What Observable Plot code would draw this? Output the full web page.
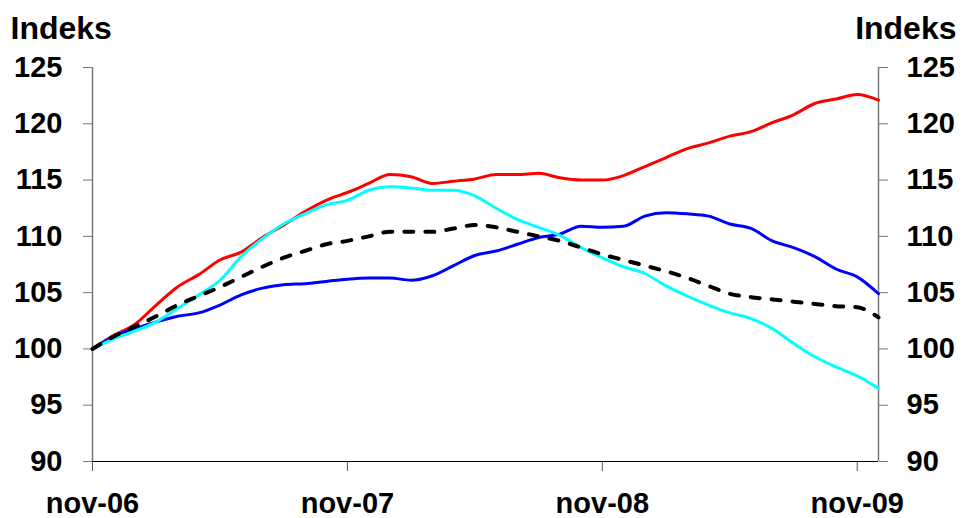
<!DOCTYPE html>
<html>
<head>
<meta charset="utf-8">
<script src="https://cdn.jsdelivr.net/npm/d3@7"></script>
<script src="https://cdn.jsdelivr.net/npm/@observablehq/plot@0.6"></script>
<style>
  html, body { margin: 0; padding: 0; background: #fff; overflow: hidden; }
  #chart { width: 963px; height: 518px; }
  #chart svg { display: block; }
</style>
</head>
<body>
<div id="chart"></div>
<script>
// Monthly observations, nov-06 (index 0) to dec-09 (index 37)
const xTickPositions = [0, 12, 24, 36];
const xTickLabels = ["nov-06", "nov-07", "nov-08", "nov-09"];
const yTicks = [90, 95, 100, 105, 110, 115, 120, 125];

const redSeries = [100, 101.2, 102.2, 103.9, 105.5, 106.6, 107.9, 108.6, 109.9, 111.0, 112.2, 113.2, 113.9, 114.7, 115.5, 115.3, 114.7, 114.9, 115.1, 115.5, 115.5, 115.6, 115.2, 115.0, 115.0, 115.4, 116.2, 117.0, 117.8, 118.3, 118.9, 119.3, 120.1, 120.8, 121.8, 122.2, 122.6, 122.1];
const blueSeries = [100, 101.1, 101.8, 102.4, 102.9, 103.2, 103.9, 104.8, 105.4, 105.7, 105.8, 106.0, 106.2, 106.3, 106.3, 106.1, 106.5, 107.4, 108.3, 108.7, 109.3, 109.9, 110.2, 110.9, 110.8, 110.9, 111.8, 112.1, 112.0, 111.8, 111.1, 110.7, 109.6, 109.0, 108.2, 107.1, 106.4, 104.9];
const cyanSeries = [100, 100.9, 101.6, 102.4, 103.6, 104.8, 106.1, 108.2, 109.8, 111.1, 112.0, 112.8, 113.2, 114.1, 114.4, 114.3, 114.1, 114.1, 113.6, 112.5, 111.5, 110.8, 110.1, 109.0, 108.1, 107.3, 106.7, 105.6, 104.7, 103.9, 103.2, 102.7, 101.8, 100.5, 99.3, 98.4, 97.6, 96.5];
const dashSeries = [100, 101.1, 102.0, 102.9, 103.9, 104.7, 105.5, 106.4, 107.3, 108.1, 108.7, 109.3, 109.6, 110.0, 110.4, 110.4, 110.4, 110.7, 111.0, 110.8, 110.4, 110.0, 109.6, 109.0, 108.4, 107.9, 107.4, 106.9, 106.3, 105.6, 104.9, 104.6, 104.4, 104.2, 104.0, 103.8, 103.7, 102.8];

const toRows = (arr) => arr.map((v, i) => ({i, v}));
const lastIndex = redSeries.length - 1;

const chart = Plot.plot({
  width: 963,
  height: 518,
  marginLeft: 92,
  marginRight: 85,
  marginTop: 67,
  marginBottom: 57,
  style: {
    fontFamily: "'Liberation Sans', Arial, sans-serif",
    fontWeight: "bold",
    fontSize: "29px",
    color: "black",
    background: "white",
    overflow: "visible"
  },
  x: {domain: [0, lastIndex]},
  y: {domain: [90, 125]},
  marks: [
    Plot.axisY({anchor: "left", ticks: yTicks, tickSize: 9, tickPadding: 21, label: null, stroke: "#777", fill: "black"}),
    Plot.axisY({anchor: "right", ticks: yTicks, tickSize: 9, tickPadding: 19, label: null, stroke: "#777", fill: "black"}),
    Plot.axisX({anchor: "bottom", ticks: xTickPositions, tickFormat: (d) => xTickLabels[xTickPositions.indexOf(d)], tickSize: 10, tickPadding: 21, label: null, stroke: "#555", fill: "black"}),
    Plot.ruleX([0], {stroke: "#777", strokeWidth: 1.5}),
    Plot.ruleX([lastIndex], {stroke: "#777", strokeWidth: 1.5}),
    Plot.ruleY([90], {stroke: "black", strokeWidth: 1.2}),
    Plot.lineY(toRows(redSeries), {x: "i", y: "v", stroke: "#ff0000", strokeWidth: 3, curve: "monotone-x"}),
    Plot.lineY(toRows(blueSeries), {x: "i", y: "v", stroke: "#0000ff", strokeWidth: 3, curve: "monotone-x"}),
    Plot.lineY(toRows(cyanSeries), {x: "i", y: "v", stroke: "#00ffff", strokeWidth: 3, curve: "monotone-x"}),
    Plot.lineY(toRows(dashSeries), {x: "i", y: "v", stroke: "black", strokeWidth: 4, strokeDasharray: "9,12", curve: "monotone-x"}),
    Plot.text(["Indeks"], {frameAnchor: "top-left", textAnchor: "start", lineAnchor: "bottom", dx: -82, dy: -29, fill: "black", fontSize: 32, fontWeight: "bold"}),
    Plot.text(["Indeks"], {frameAnchor: "top-right", textAnchor: "end", lineAnchor: "bottom", dx: 78, dy: -29, fill: "black", fontSize: 32, fontWeight: "bold"})
  ]
});
document.getElementById("chart").appendChild(chart);
</script>
</body>
</html>
